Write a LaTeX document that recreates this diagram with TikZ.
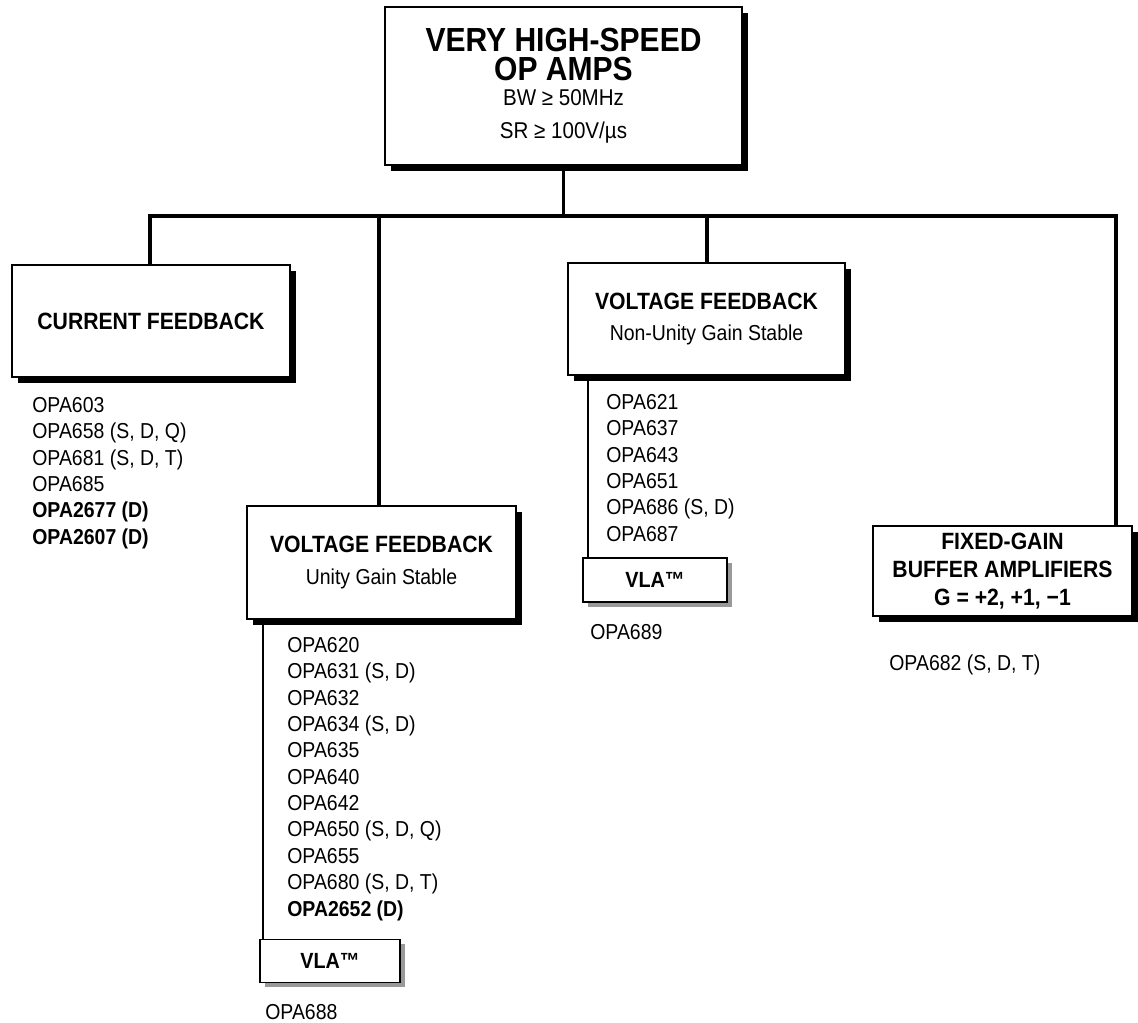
\documentclass[tikz,border=0pt]{standalone}
\usepackage{fontspec}
\setmainfont{Liberation Sans}[FakeStretch=0.9]
\usetikzlibrary{shadows}

\tikzset{
  catbox/.style={draw, line width=0.7pt, fill=white, align=center, inner sep=0pt,
    drop shadow={shadow xshift=3.4pt, shadow yshift=-3.4pt, fill=black, opacity=1}},
  vlabox/.style={draw, line width=0.6pt, fill=white, inner sep=0pt, minimum height=0.86cm,
    font=\bfseries\fontsize{12.5}{14}\selectfont,
    drop shadow={shadow xshift=2.8pt, shadow yshift=-2.8pt, fill=black!40, opacity=1}},
  partlist/.style={anchor=north west, inner sep=0pt, align=left, font=\fontsize{12.3}{15}\selectfont},
  conn/.style={line width=2pt},
  tap/.style={line width=1.1pt},
}

\begin{document}
\begin{tikzpicture}[x=0.02cm, y=-0.02cm]
\useasboundingbox (0,0) rectangle (1138,1022);

\coordinate (busL) at (150,216);
\coordinate (busB) at (379,216);
\coordinate (busC) at (707,216);
\coordinate (busR) at (1116,216);
\coordinate (tapA) at (263,0);
\coordinate (tapB) at (588,0);

% boxes
\node[catbox, minimum width=7.14cm, minimum height=3.16cm, font=\fontsize{13}{16.4}\selectfont] (top) at (563.5,86)
  {{\bfseries\fontsize{19}{16.4}\selectfont VERY HIGH-SPEED}\\
   {\bfseries\fontsize{19}{16.4}\selectfont OP AMPS}\\[-2.1pt]
   {\fontsize{13}{16.4}\selectfont BW ≥ 50MHz}\\[2.2pt]
   {\fontsize{13}{16.4}\selectfont SR ≥ 100V/µs}};

\node[catbox, minimum width=5.56cm, minimum height=2.24cm, font=\bfseries\fontsize{13.4}{18}\selectfont] (cur) at (151,321)
  {CURRENT FEEDBACK};
\node[catbox, minimum width=5.38cm, minimum height=2.26cm, font=\fontsize{12.3}{18}\selectfont] (vfu) at (381.5,562.5)
  {{\bfseries\fontsize{13.4}{18}\selectfont VOLTAGE FEEDBACK}\\ Unity Gain Stable};
\node[catbox, minimum width=5.54cm, minimum height=2.24cm, font=\fontsize{12.3}{18}\selectfont] (vfn) at (706.5,319)
  {{\bfseries\fontsize{13.4}{18}\selectfont VOLTAGE FEEDBACK}\\ Non-Unity Gain Stable};
\node[catbox, minimum width=5.18cm, minimum height=1.8cm, font=\bfseries\fontsize{13.4}{15.9}\selectfont] (fix) at (1002.5,571)
  {FIXED-GAIN\\ BUFFER AMPLIFIERS\\ G = +2, +1, −1};

\node[vlabox, minimum width=2.8cm] (vlaA) at (330,961) {VLA™};
\node[vlabox, minimum width=2.88cm, minimum height=0.88cm] (vlaB) at (655,580) {VLA™};

% part numbers
\node[partlist] (curparts) at (32,397)
  {OPA603\\ OPA658 (S, D, Q)\\ OPA681 (S, D, T)\\ OPA685\\ \textbf{OPA2677 (D)}\\ \textbf{OPA2607 (D)}};
\node[partlist] (vfuparts) at (287,637)
  {OPA620\\ OPA631 (S, D)\\ OPA632\\ OPA634 (S, D)\\ OPA635\\ OPA640\\ OPA642\\
   OPA650 (S, D, Q)\\ OPA655\\ OPA680 (S, D, T)\\ \textbf{OPA2652 (D)}};
\node[partlist] (vfnparts) at (606,394)
  {OPA621\\ OPA637\\ OPA643\\ OPA651\\ OPA686 (S, D)\\ OPA687};
\node[partlist] (vlaAparts) at (265,1004) {OPA688};
\node[partlist] (vlaBparts) at (590,624) {OPA689};
\node[partlist] (fixparts) at (889,654) {OPA682 (S, D, T)};

% tree
\draw[conn] (top.south) -- (top.south |- busL);
\draw[conn] (busL |- cur.north) -- (busL) -- (busR) -- (busR |- fix.north);
\draw[conn] (busB) -- (busB |- vfu.north);
\draw[conn] (busC) -- (busC |- vfn.north);

\draw[tap] (tapA |- vfu.south) -- (tapA |- vlaA.north);
\draw[tap] (tapB |- vfn.south) -- (tapB |- vlaB.north);

\end{tikzpicture}
\end{document}
